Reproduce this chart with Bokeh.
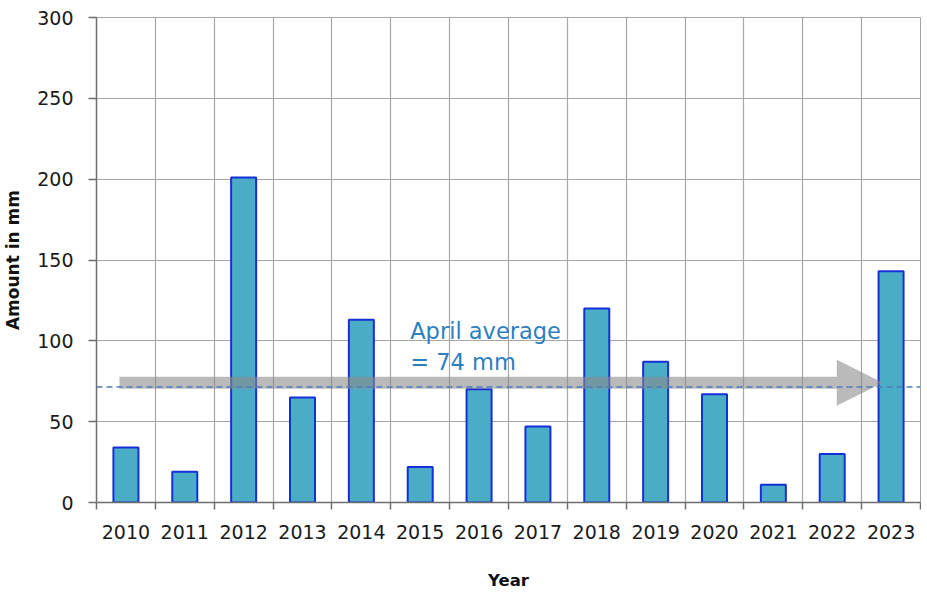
from bokeh.plotting import figure
from bokeh.models import FixedTicker, Span, Arrow, NormalHead, Label, Range1d
from bokeh.embed import file_html
from bokeh.resources import INLINE

years = [str(y) for y in range(2010, 2024)]
amounts = [34, 19, 201, 65, 113, 22, 70, 47, 120, 87, 67, 11, 30, 143]
y_ticks = [0, 50, 100, 150, 200, 250, 300]
avg_line = 71.5
arrow_level = 74
avg_label = ["April average", "= 74 mm"]

n = len(years)
xs = [i + 0.5 for i in range(n)]

FONT = "DejaVu Sans"
GRID = "#A6A6A6"
AXIS = "#6E6E6E"

p = figure(width=921, height=592, output_backend="svg", toolbar_location=None,
           x_range=Range1d(0, n), y_range=Range1d(0, 300),
           min_border_left=95, min_border_right=1, min_border_top=17,
           min_border_bottom=90)
p.background_fill_color = "white"
p.border_fill_color = "white"
p.outline_line_color = GRID

p.vbar(x=xs, top=amounts, width=0.425, bottom=0,
       fill_color="#4BACC6", line_color="#1530D8", line_width=2)

gray = "#8C8C8C"
head_size = 46
shaft_end = 13.36 - head_size / 58.93
p.add_layout(Arrow(end=None, x_start=0.39, y_start=arrow_level,
                   x_end=shaft_end, y_end=arrow_level,
                   line_width=12, line_color=gray, line_alpha=0.6))
p.add_layout(Arrow(end=NormalHead(size=head_size, fill_color=gray, line_color=gray,
                                  fill_alpha=0.6, line_alpha=0.0),
                   x_start=shaft_end, y_start=arrow_level,
                   x_end=13.36, y_end=arrow_level,
                   line_width=0, line_alpha=0.0))

p.add_layout(Span(location=avg_line, dimension="width", line_color="#4A7EBB",
                  line_dash="6 4", line_width=1.5))

p.add_layout(Label(x=5.33, y=106.0, text=avg_label[0], text_font=FONT,
                   text_font_size="22.5px", text_color="#2F7FBF",
                   text_baseline="alphabetic"))
p.add_layout(Label(x=5.33, y=86.6, text=avg_label[1], text_font=FONT,
                   text_font_size="22.5px", text_color="#2F7FBF",
                   text_baseline="alphabetic"))

# x axis
p.xaxis.ticker = FixedTicker(ticks=xs, minor_ticks=list(range(n + 1)))
p.xaxis.major_label_overrides = {x: y for x, y in zip(xs, years)}
p.xaxis.major_tick_line_color = None
p.xaxis.major_tick_out = 0
p.xaxis.major_tick_in = 0
p.xaxis.minor_tick_in = 0
p.xaxis.minor_tick_out = 7
p.xaxis.minor_tick_line_color = AXIS
p.xaxis.minor_tick_line_width = 1.5
p.xaxis.axis_line_color = AXIS
p.xaxis.axis_line_width = 1.5
p.xaxis.major_label_text_font = FONT
p.xaxis.major_label_text_font_size = "19px"
p.xaxis.major_label_text_color = "#1a1a1a"
p.xaxis.major_label_standoff = 15
p.xaxis.axis_label = "Year"
p.xaxis.axis_label_text_font = FONT
p.xaxis.axis_label_text_font_size = "16.5px"
p.xaxis.axis_label_text_font_style = "bold"
p.xaxis.axis_label_text_color = "#111111"
p.xaxis.axis_label_standoff = 29

# y axis
p.yaxis.ticker = FixedTicker(ticks=y_ticks)
p.yaxis.major_tick_in = 0
p.yaxis.major_tick_out = 8
p.yaxis.major_tick_line_color = AXIS
p.yaxis.major_tick_line_width = 1.5
p.yaxis.minor_tick_line_color = None
p.yaxis.axis_line_color = AXIS
p.yaxis.axis_line_width = 1.5
p.yaxis.major_label_text_font = FONT
p.yaxis.major_label_text_font_size = "19px"
p.yaxis.major_label_text_color = "#1a1a1a"
p.yaxis.major_label_standoff = 15
p.yaxis.axis_label = "Amount in mm"
p.yaxis.axis_label_text_font = FONT
p.yaxis.axis_label_text_font_size = "17px"
p.yaxis.axis_label_text_font_style = "bold"
p.yaxis.axis_label_text_color = "#111111"
p.yaxis.axis_label_standoff = 11

p.xgrid.ticker = FixedTicker(ticks=list(range(n + 1)))
p.ygrid.ticker = FixedTicker(ticks=y_ticks)
p.xgrid.grid_line_color = GRID
p.ygrid.grid_line_color = GRID
p.xgrid.grid_line_width = 1.2
p.ygrid.grid_line_width = 1.2

open("out.html", "w").write(file_html(p, INLINE))
